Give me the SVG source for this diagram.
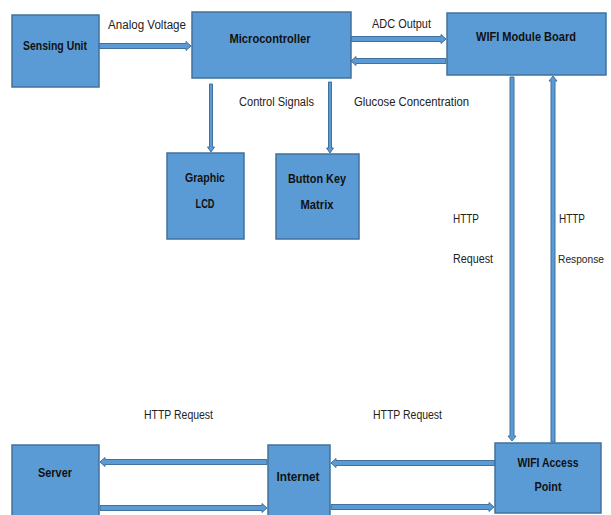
<svg xmlns="http://www.w3.org/2000/svg" width="611" height="515" viewBox="0 0 611 515">
<style>
.box{fill:#5B9BD5;stroke:#41719C;stroke-width:1.5}
.arr{fill:#5B9BD5;stroke:#41719C;stroke-width:1}
.lbl{font-family:"Liberation Sans",Arial,sans-serif;font-size:12.5px;fill:#222}
.nl{font-family:"Liberation Sans",Arial,sans-serif;font-size:13px;font-weight:bold;fill:#111;text-anchor:middle}
</style>
<rect width="611" height="515" fill="#fff"/>
<g id="connectors">
<path class="arr" d="M99 43.5H186V41.5L191 46L186 50.5V48.5H99Z"/>
<path class="arr" d="M351 36.5H441V34.5L446 39L441 43.5V41.5H351Z"/>
<path class="arr" d="M446 58.5H356V56.5L351 61L356 65.5V63.5H446Z"/>
<path class="arr" d="M495 460.5H336V458.5L331 463L336 467.5V465.5H495Z"/>
<path class="arr" d="M331 504.5H489V502.5L494 507L489 511.5V509.5H331Z"/>
<path class="arr" d="M267 459.5H105V457.5L100 462L105 466.5V464.5H267Z"/>
<path class="arr" d="M100 505.5H262V503.5L267 508L262 512.5V510.5H100Z"/>
<path class="arr" d="M209.5 84V147H207.5L211 152L214.5 147H212.5V84Z"/>
<path class="arr" d="M328.5 82V148H326.5L330 153L333.5 148H331.5V82Z"/>
<path class="arr" d="M510 77V436H508L512 441L516 436H514V77Z"/>
<path class="arr" d="M551 442V81H549L553 76L557 81H555V442Z"/>
</g>
<g id="labels">
<text class="lbl" x="108" y="29" textLength="78" lengthAdjust="spacingAndGlyphs">Analog Voltage</text>
<text class="lbl" x="372" y="28" textLength="59" lengthAdjust="spacingAndGlyphs">ADC Output</text>
<text class="lbl" x="239" y="106" textLength="75" lengthAdjust="spacingAndGlyphs">Control Signals</text>
<text class="lbl" x="354" y="106" textLength="115" lengthAdjust="spacingAndGlyphs">Glucose Concentration</text>
<text class="lbl" x="453" y="223" textLength="26" lengthAdjust="spacingAndGlyphs">HTTP</text>
<text class="lbl" x="453" y="263" textLength="40" lengthAdjust="spacingAndGlyphs">Request</text>
<text class="lbl" x="559" y="223" textLength="26" lengthAdjust="spacingAndGlyphs">HTTP</text>
<text class="lbl" x="558" y="263" style="font-size:11.5px" textLength="46" lengthAdjust="spacingAndGlyphs">Response</text>
<text class="lbl" x="144" y="419" textLength="69" lengthAdjust="spacingAndGlyphs">HTTP Request</text>
<text class="lbl" x="373" y="419" textLength="69" lengthAdjust="spacingAndGlyphs">HTTP Request</text>
</g>
<g id="sensing-unit"><rect class="box" x="12" y="15" width="87" height="72"/><text class="nl" x="55" y="50" textLength="64" lengthAdjust="spacingAndGlyphs">Sensing Unit</text></g>
<g id="microcontroller"><rect class="box" x="192" y="12" width="159" height="66"/><text class="nl" x="270" y="43" textLength="81" lengthAdjust="spacingAndGlyphs">Microcontroller</text></g>
<g id="wifi-module"><rect class="box" x="447" y="13" width="159" height="62"/><text class="nl" x="526" y="41" textLength="100" lengthAdjust="spacingAndGlyphs">WIFI Module Board</text></g>
<g id="graphic-lcd"><rect class="box" x="167" y="153" width="77" height="86"/><text class="nl" x="205" y="182" textLength="40" lengthAdjust="spacingAndGlyphs">Graphic</text><text class="nl" x="205" y="208" textLength="19" lengthAdjust="spacingAndGlyphs">LCD</text></g>
<g id="button-key-matrix"><rect class="box" x="276" y="154" width="83" height="85"/><text class="nl" x="317" y="183" textLength="58" lengthAdjust="spacingAndGlyphs">Button Key</text><text class="nl" x="317" y="209" textLength="33" lengthAdjust="spacingAndGlyphs">Matrix</text></g>
<g id="server"><rect class="box" x="12" y="445" width="87" height="75"/><text class="nl" x="55" y="477" textLength="34" lengthAdjust="spacingAndGlyphs">Server</text></g>
<g id="internet"><rect class="box" x="268" y="445" width="62" height="75"/><text class="nl" x="298" y="481" textLength="43" lengthAdjust="spacingAndGlyphs">Internet</text></g>
<g id="wifi-access-point"><rect class="box" x="495" y="443" width="106" height="70"/><text class="nl" x="548" y="467" textLength="61" lengthAdjust="spacingAndGlyphs">WIFI Access</text><text class="nl" x="548" y="491" textLength="27" lengthAdjust="spacingAndGlyphs">Point</text></g>
</svg>
